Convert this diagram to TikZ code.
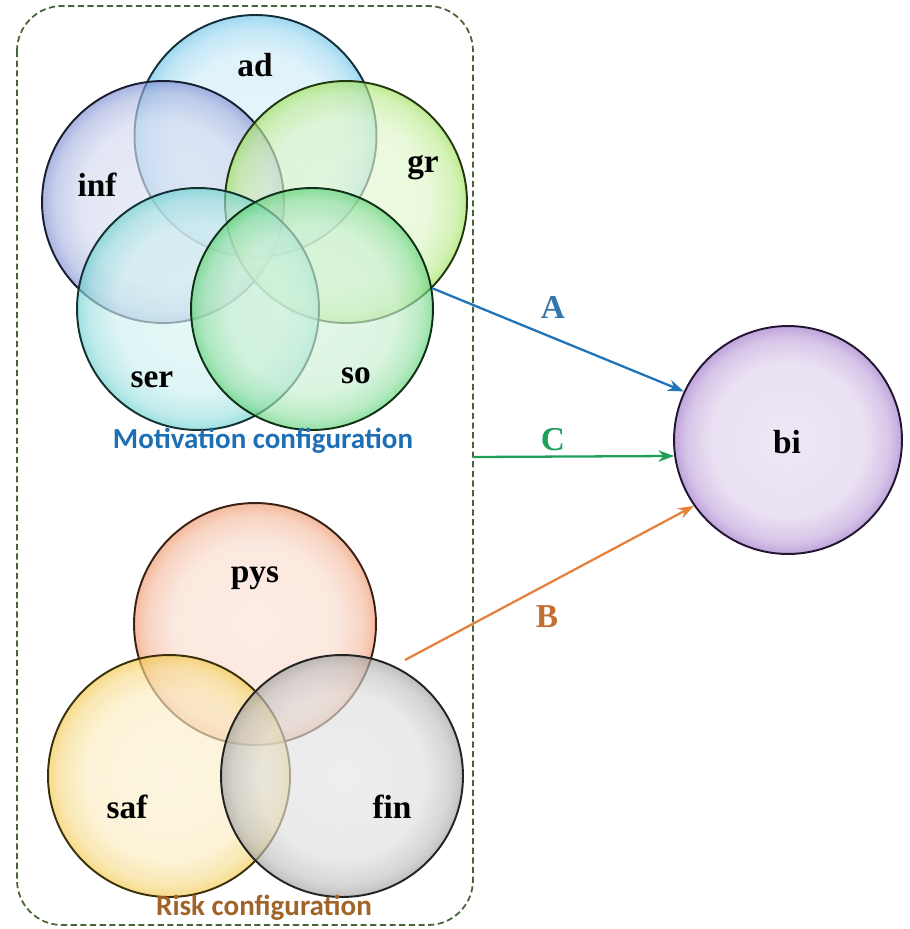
\documentclass[tikz,border=0pt]{standalone}
\usepackage{fontspec}
\setmainfont{Liberation Serif}
\newfontfamily\calib{Carlito}
\usetikzlibrary{arrows.meta}

\definecolor{adcol}{RGB}{80,185,230}
\definecolor{infcol}{RGB}{100,120,200}
\definecolor{grcol}{RGB}{140,220,60}
\definecolor{sercol}{RGB}{80,200,200}
\definecolor{socol}{RGB}{60,200,90}
\definecolor{pyscol}{RGB}{235,130,80}
\definecolor{safcol}{RGB}{240,190,40}
\definecolor{fincol}{RGB}{140,140,140}
\definecolor{bicol}{RGB}{140,90,190}
\definecolor{frmcol}{RGB}{70,100,55}
\definecolor{acol}{RGB}{30,115,185}
\definecolor{ccol}{RGB}{30,160,90}
\definecolor{bcol}{RGB}{230,130,60}
\definecolor{motcol}{RGB}{30,110,180}
\definecolor{riskcol}{RGB}{160,100,40}

\colorlet{bubc}{black}
\pgfdeclareradialshading[bubc]{bubble}{\pgfpoint{0bp}{0bp}}{%
  color(0bp)=(bubc!22); color(17bp)=(bubc!28); color(22.5bp)=(bubc!55);
  color(25bp)=(bubc!85); color(50bp)=(bubc!85)}

\begin{document}
\begin{tikzpicture}[x=0.02cm, y=-0.02cm,
  bubble/.style={circle, minimum size=4.84cm, inner sep=0pt, draw=#1!25!black,
    line width=1.1pt, /utils/exec={\colorlet{bubc}{#1}}, shade, shading=bubble,
    fill opacity=0.65},
  lbl/.style={font=\fontsize{19}{22}\selectfont\bfseries},
  link/.style={line width=1.3pt, -{Stealth[length=9pt,width=6.5pt]}}]
  \useasboundingbox (0,0) rectangle (909,929);

  % frame
  \draw[frmcol, line width=1pt, dash pattern=on 3.5pt off 2pt, rounded corners=0.9cm]
    (17,6) rectangle (473,925);

  % motivation circles
  \node[bubble=adcol] (ad) at (255.5,136) {};
  \node[bubble=infcol] (inf) at (163,202) {};
  \node[bubble=grcol] (gr) at (346,202) {};
  \node[bubble=sercol] (ser) at (198,309) {};
  \node[bubble=socol] (so) at (312,309) {};

  % risk circles
  \node[bubble=pyscol] (pys) at (255,624) {};
  \node[bubble=safcol] (saf) at (169,776) {};
  \node[bubble=fincol] (fin) at (342,776) {};

  \node[bubble=bicol, minimum size=4.56cm] (bi) at (788,440) {};

  \node[lbl] (ad-t) at (255,65) {ad};
  \node[lbl] (inf-t) at (97,185) {inf};
  \node[lbl] (gr-t) at (423,168) {gr};
  \node[lbl] (ser-t) at (152,380) {ser};
  \node[lbl] (so-t) at (356,376) {so};
  \node[lbl] (pys-t) at (255,578) {pys};
  \node[lbl] (saf-t) at (127,807) {saf};
  \node[lbl] (fin-t) at (392,807) {fin};
  \node[lbl] (bi-t) at (787,442) {bi};

  \node[font=\calib\fontsize{16.5}{19}\selectfont\bfseries, text=motcol, anchor=base] (mot) at (263,448) {Motivation configuration};
  \node[font=\calib\fontsize{16.5}{19}\selectfont\bfseries, text=riskcol, anchor=base] (risk) at (264,915) {Risk configuration};

  % connectors
  \coordinate (c-start) at (473,457);
  \coordinate (b-start) at (405,660);
  \draw[link, acol] (gr.-45) -- (bi.155);
  \draw[link, ccol] (c-start) -- (bi.188);
  \draw[link, bcol] (b-start) -- (bi.215);

  \node[lbl, text=acol!80!gray] (a-t) at (553,307) {A};
  \node[lbl, text=ccol] (c-t) at (553,440) {C};
  \node[lbl, text=bcol!85!black] (b-t) at (547,617) {B};
\end{tikzpicture}
\end{document}
